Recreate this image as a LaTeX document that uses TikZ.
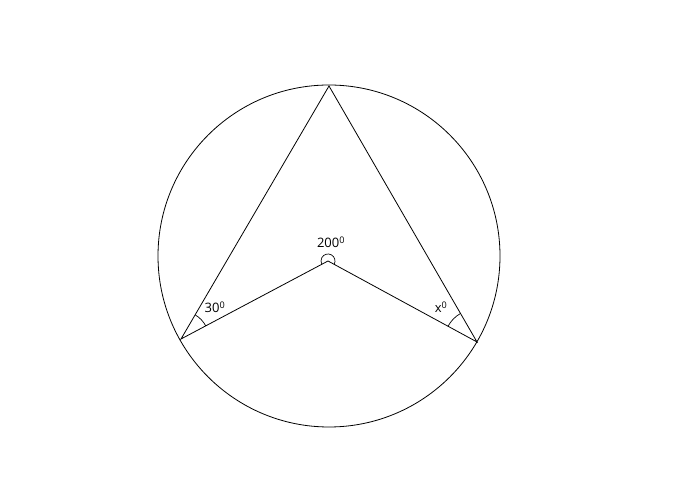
\documentclass[tikz,border=0pt]{standalone}
\usepackage{fontspec}
\setmainfont{Open Sans}
\usetikzlibrary{calc}
\begin{document}
\begin{tikzpicture}[x=1pt,y=1pt,line width=0.8pt,
  lbl/.style={font=\fontsize{13}{15}\selectfont, inner sep=0pt},
  anglemark/.style={line width=0.7pt}]
\useasboundingbox (0,0) rectangle (695,494);
\coordinate (O) at (329,238);
\draw (O) circle[radius=171];
\coordinate (T) at (329,408);
\coordinate (L) at (181,155);
\coordinate (R) at (477,152);
\coordinate (C) at (328,233);
\draw (L) -- (T) -- (R) -- (C) -- cycle;
% angle marks
\draw[anglemark] ($(C)+(331.5:7)$) arc[start angle=331.5, delta angle=236.4, radius=7];
\draw[anglemark] ($(L)+(27.9:28)$) arc[start angle=27.9, end angle=59.7, radius=28];
\draw[anglemark] ($(R)+(120:33)$) arc[start angle=120, end angle=151.5, radius=33];
\node[lbl] (a200) at (331,252) {200\textsuperscript{0}};
\node[lbl] (a30) at (215,187) {30\textsuperscript{0}};
\node[lbl] (ax) at (441,187) {x\textsuperscript{0}};
\end{tikzpicture}
\end{document}
